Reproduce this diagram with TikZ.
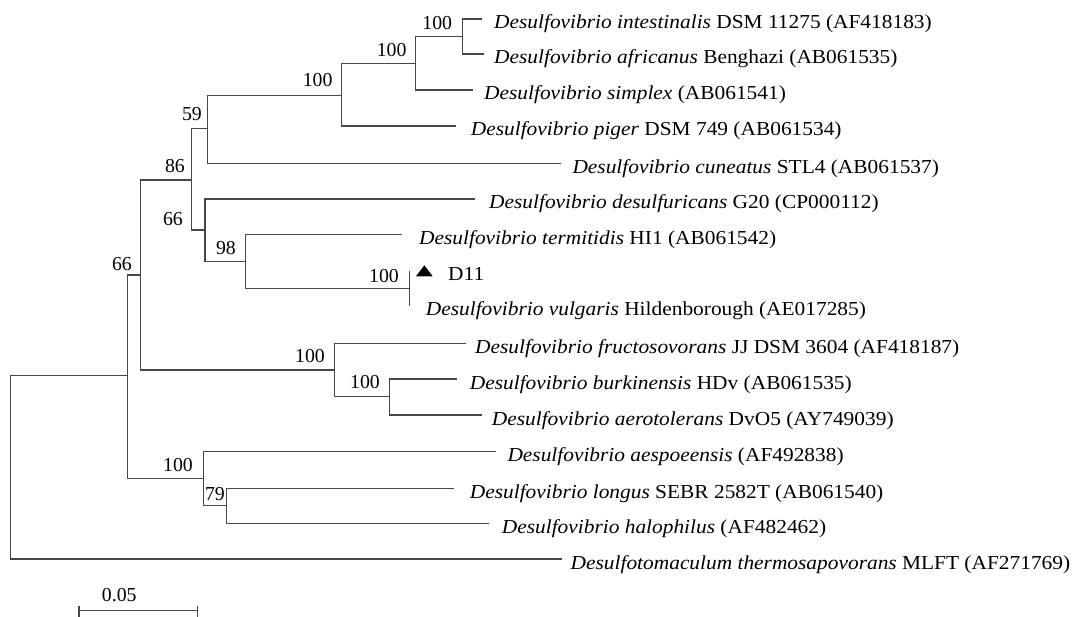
\documentclass[tikz,border=0pt]{standalone}
\usepackage{fontspec}
\setmainfont{Liberation Serif}
\newfontfamily\taxfont{Liberation Serif}[FakeStretch=1.08]
\usetikzlibrary{calc}

\begin{document}
\begin{tikzpicture}[x=1pt, y=-1pt,
    branch/.style={draw=black!72, line width=1.5pt},
    taxon/.style={anchor=base west, inner sep=0pt, font=\taxfont\fontsize{19.8}{24}\selectfont},
    boot/.style={anchor=base east, inner sep=0pt, font=\fontsize{19.8}{24}\selectfont}]
    \useasboundingbox (0,0) rectangle (1075,617);

    % Inner nodes of the tree
    \coordinate (root) at (10.7,467);
    \coordinate (nbig) at (127.3,375.7);
    \coordinate (nout) at (140.7,275);
    \coordinate (n86) at (191.7,180);
    \coordinate (n59) at (207.3,128.3);
    \coordinate (npig) at (341.7,95.7);
    \coordinate (nsim) at (415.7,63.3);
    \coordinate (nint) at (462.3,36.7);
    \coordinate (nin) at (205,230);
    \coordinate (n98) at (245.7,261.7);
    \coordinate (nd11) at (409.3,288.3);
    \coordinate (nfru) at (334.3,370);
    \coordinate (nbur) at (389.3,396.7);
    \coordinate (nasp) at (203.3,478.3);
    \coordinate (n79) at (226.7,505.7);

    % Tips (ends of the branches)
    \coordinate (e1) at (481.7,19);
    \coordinate (e2) at (484.3,54);
    \coordinate (e3) at (472.7,90);
    \coordinate (e4) at (455.7,126);
    \coordinate (e5) at (560.7,163.3);
    \coordinate (e6) at (475,199);
    \coordinate (e7) at (401.7,234.3);
    \coordinate (e8) at (409.3,271);
    \coordinate (e9) at (409.3,306);
    \coordinate (e10) at (466,343.3);
    \coordinate (e11) at (456.7,379);
    \coordinate (e12) at (481.7,415);
    \coordinate (e13) at (496,451.7);
    \coordinate (e14) at (454,488.3);
    \coordinate (e15) at (489.3,523.3);
    \coordinate (e16) at (562,559);

    % Branches
    \draw[branch] (root) |- (nbig);
    \draw[branch] (root) |- (e16);
    \draw[branch] (nbig) |- (nout);
    \draw[branch] (nbig) |- (nasp);
    \draw[branch] (nout) |- (n86);
    \draw[branch] (nout) |- (nfru);
    \draw[branch] (n86) |- (n59);
    \draw[branch] (n86) |- (nin);
    \draw[branch] (n59) |- (npig);
    \draw[branch] (n59) |- (e5);
    \draw[branch] (npig) |- (nsim);
    \draw[branch] (npig) |- (e4);
    \draw[branch] (nsim) |- (nint);
    \draw[branch] (nsim) |- (e3);
    \draw[branch] (nint) |- (e1);
    \draw[branch] (nint) |- (e2);
    \draw[branch] (nin) |- (e6);
    \draw[branch] (nin) |- (n98);
    \draw[branch] (n98) |- (e7);
    \draw[branch] (n98) |- (nd11);
    \draw[branch] (nd11) -- (e8);
    \draw[branch] (nd11) -- (e9);
    \draw[branch] (nfru) |- (e10);
    \draw[branch] (nfru) |- (nbur);
    \draw[branch] (nbur) |- (e11);
    \draw[branch] (nbur) |- (e12);
    \draw[branch] (nasp) |- (e13);
    \draw[branch] (nasp) |- (n79);
    \draw[branch] (n79) |- (e14);
    \draw[branch] (n79) |- (e15);

    % Bootstrap values
    \node[boot] (b1) at (452.3,29.5) {100};
    \node[boot] (b2) at (406.7,56.3) {100};
    \node[boot] (b3) at (332.7,87) {100};
    \node[boot] (b4) at (202,121) {59};
    \node[boot] (b5) at (185,172.7) {86};
    \node[boot] (b6) at (183,226) {66};
    \node[boot] (b7) at (236,254.7) {98};
    \node[boot] (b8) at (399,283) {100};
    \node[boot] (b9) at (132,270.3) {66};
    \node[boot] (b10) at (325,362) {100};
    \node[boot] (b11) at (380,388.7) {100};
    \node[boot] (b12) at (193,471) {100};
    \node[boot] (b13) at (225,500.3) {79};

    % Taxa
    \node[taxon] (l1) at (494,29) {\textit{Desulfovibrio intestinalis} DSM 11275 (AF418183)};
    \node[taxon] (l2) at (494,64) {\textit{Desulfovibrio africanus} Benghazi (AB061535)};
    \node[taxon] (l3) at (484,100) {\textit{Desulfovibrio simplex} (AB061541)};
    \node[taxon] (l4) at (470.7,136) {\textit{Desulfovibrio piger} DSM 749 (AB061534)};
    \node[taxon] (l5) at (572.3,173.3) {\textit{Desulfovibrio cuneatus} STL4 (AB061537)};
    \node[taxon] (l6) at (489,209) {\textit{Desulfovibrio desulfuricans} G20 (CP000112)};
    \node[taxon] (l7) at (419,244.3) {\textit{Desulfovibrio termitidis} HI1 (AB061542)};
    \node[taxon] (l8) at (448,281) {D11};
    \fill (416,276.3) -- (432.7,276.3) -- (424.3,265.3) -- cycle;
    \node[taxon] (l9) at (425.7,316) {\textit{Desulfovibrio vulgaris} Hildenborough (AE017285)};
    \node[taxon] (l10) at (475,353.3) {\textit{Desulfovibrio fructosovorans} JJ DSM 3604 (AF418187)};
    \node[taxon] (l11) at (469.7,389) {\textit{Desulfovibrio burkinensis} HDv (AB061535)};
    \node[taxon] (l12) at (491.7,425) {\textit{Desulfovibrio aerotolerans} DvO5 (AY749039)};
    \node[taxon] (l13) at (507.3,461.7) {\textit{Desulfovibrio aespoeensis} (AF492838)};
    \node[taxon] (l14) at (469.7,498.3) {\textit{Desulfovibrio longus} SEBR 2582T (AB061540)};
    \node[taxon] (l15) at (501.7,533.3) {\textit{Desulfovibrio halophilus} (AF482462)};
    \node[taxon] (l16) at (570.5,569) {\textit{Desulfotomaculum thermosapovorans} MLFT (AF271769)};

    % Scale bar
    \coordinate (s1) at (79,610.7);
    \coordinate (s2) at (197.3,610.7);
    \draw[branch] (s1) -- (s2);
    \draw[branch] ($(s1)+(0,-5)$) -- ($(s1)+(0,6)$);
    \draw[branch] ($(s2)+(0,-5)$) -- ($(s2)+(0,6)$);
    \node[boot, anchor=base west] (sl) at (101.7,601) {0.05};
\end{tikzpicture}
\end{document}
